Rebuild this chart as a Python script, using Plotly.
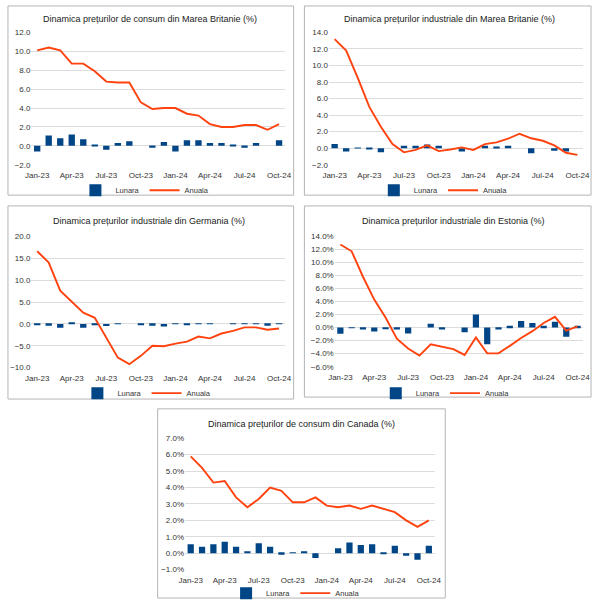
import plotly.graph_objects as go

months = ["Jan-23","Feb-23","Mar-23","Apr-23","May-23","Jun-23","Jul-23","Aug-23","Sep-23","Oct-23","Nov-23","Dec-23",
          "Jan-24","Feb-24","Mar-24","Apr-24","May-24","Jun-24","Jul-24","Aug-24","Sep-24","Oct-24"]
tick_months = months[::3]

titles = ["Dinamica prețurilor de consum din Marea Britanie (%)",
          "Dinamica prețurilor industriale din Marea Britanie (%)",
          "Dinamica prețurilor industriale din Germania (%)",
          "Dinamica prețurilor industriale din Estonia (%)",
          "Dinamica prețurilor de consum din Canada (%)"]

uk_cpi_lunara = [-0.6, 1.1, 0.8, 1.2, 0.7, 0.1, -0.4, 0.3, 0.5, 0.0, -0.2, 0.4,
                 -0.6, 0.6, 0.6, 0.3, 0.3, 0.1, -0.2, 0.3, 0.0, 0.6]
uk_cpi_anuala = [10.1, 10.4, 10.1, 8.7, 8.7, 7.9, 6.8, 6.7, 6.7, 4.6, 3.9, 4.0,
                 4.0, 3.4, 3.2, 2.3, 2.0, 2.0, 2.2, 2.2, 1.7, 2.3]

uk_ppi_lunara = [0.5, -0.4, 0.05, -0.15, -0.5, 0.0, 0.3, 0.3, 0.45, 0.3, 0.0, -0.4,
                 0.0, 0.3, 0.2, 0.3, 0.0, -0.6, 0.0, -0.3, -0.4, 0.0]
uk_ppi_anuala = [13.2, 11.8, 8.5, 5.0, 2.6, 0.5, -0.5, -0.2, 0.35, -0.35, -0.15, 0.1,
                 -0.2, 0.5, 0.7, 1.15, 1.75, 1.2, 0.9, 0.35, -0.55, -0.8]

de_ppi_lunara = [-0.3, -0.4, -0.9, 0.4, -0.9, -0.3, -0.5, 0.1, 0.0, -0.1, -0.4, -0.6,
                 0.1, -0.2, 0.1, 0.1, 0.0, 0.1, 0.1, 0.1, -0.4, 0.1]
de_ppi_anuala = [16.6, 14.0, 7.6, 5.1, 2.55, 1.4, -3.1, -7.7, -9.2, -7.3, -5.0, -5.1,
                 -4.5, -4.05, -2.9, -3.3, -2.2, -1.6, -0.8, -0.8, -1.35, -1.05]

ee_ppi_lunara = [-0.95, -0.1, -0.3, -0.6, -0.2, -0.3, -0.9, 0.0, 0.6, -0.3, 0.0, -0.7,
                 2.0, -2.55, -0.3, 0.3, 1.0, 0.7, 0.3, 0.9, -1.4, 0.3]
ee_ppi_anuala = [12.75, 11.7, 7.8, 4.3, 1.55, -1.7, -3.2, -4.3, -2.55, -2.95, -3.3, -4.2,
                 -1.5, -3.95, -3.95, -2.8, -1.6, -0.55, 0.7, 1.65, -0.45, 0.2]

ca_cpi_lunara = [0.55, 0.4, 0.55, 0.7, 0.4, 0.1, 0.6, 0.4, -0.1, 0.05, 0.1, -0.3,
                 0.0, 0.3, 0.65, 0.5, 0.55, -0.05, 0.45, -0.15, -0.4, 0.45]
ca_cpi_anuala = [5.9, 5.2, 4.3, 4.4, 3.4, 2.8, 3.3, 4.0, 3.8, 3.1, 3.1, 3.4,
                 2.9, 2.8, 2.9, 2.7, 2.9, 2.7, 2.5, 2.0, 1.6, 2.0]

lunara_series = [uk_cpi_lunara, uk_ppi_lunara, de_ppi_lunara, ee_ppi_lunara, ca_cpi_lunara]
anuala_series = [uk_cpi_anuala, uk_ppi_anuala, de_ppi_anuala, ee_ppi_anuala, ca_cpi_anuala]
y_ranges = [(-2, 12, 2), (-2, 14, 2), (-10, 20, 5), (-6, 14, 2), (-1, 7, 1)]
y_suffix = ["", "", "", "%", "%"]

W, H = 600, 608
plot_px = [(26, 285, 29, 164), (330, 590, 29, 164), (26, 285, 237, 371),
           (336, 590, 237, 370), (183, 438, 443, 577)]
box_px = [(2, 294, 2, 195), (305, 598, 2, 195), (2, 294, 206, 403),
          (305, 598, 206, 401), (155, 449, 413, 606)]
title_px = [(147, 15), (453, 15), (146, 221), (457, 221), (302, 428)]
legend_px = [(142, 190), (447, 190), (144, 397), (449, 397), (296, 601)]

BLUE = "#004586"
ORANGE = "#FF420E"
FONT = "Liberation Sans, Arial, sans-serif"
TFONT = "Liberation Sans Narrow, Arial Narrow, Liberation Sans, sans-serif"

fig = go.Figure()
layout = dict(width=W, height=H, margin=dict(l=0, r=0, t=0, b=0),
              paper_bgcolor="white", plot_bgcolor="white",
              bargap=0.45, shapes=[], annotations=[],
              font=dict(family=FONT, size=7, color="#333333"))

for i in range(5):
    n = i + 1
    xa = "x" if n == 1 else f"x{n}"
    ya = "y" if n == 1 else f"y{n}"
    lg = "legend" if n == 1 else f"legend{n}"
    fig.add_trace(go.Bar(x=months, y=lunara_series[i], name="Lunara", marker_color=BLUE,
                         marker_line_width=0, xaxis=xa, yaxis=ya, legend=lg))
    fig.add_trace(go.Scatter(x=months, y=anuala_series[i], name="Anuala", mode="lines",
                             line=dict(color=ORANGE, width=1.9), xaxis=xa, yaxis=ya, legend=lg))
    l, r, t, b = plot_px[i]
    lo, hi, step = y_ranges[i]
    layout["xaxis" if n == 1 else f"xaxis{n}"] = dict(
        domain=[l / W, r / W], anchor=ya, type="category", categoryarray=months,
        range=[-0.5, len(months) - 0.5], tickvals=tick_months, ticktext=tick_months,
        showgrid=False, zeroline=False, showline=False,
        ticks="outside", ticklen=3, tickcolor="rgba(0,0,0,0)",
        ticklabeloverflow="allow",
        tickfont=dict(size=8, color="#333333"), tickangle=0)
    layout["yaxis" if n == 1 else f"yaxis{n}"] = dict(
        domain=[1 - b / H, 1 - t / H], anchor=xa, range=[lo, hi], dtick=step, tick0=lo,
        tickformat=".1f", ticksuffix=y_suffix[i], showgrid=True, gridcolor="#dcdcdc",
        gridwidth=1, zeroline=False, showline=False, ticks="",
        tickfont=dict(size=8, color="#333333"))
    lx, ly = legend_px[i]
    layout[lg] = dict(x=lx / W, y=1 - ly / H, xanchor="center", yanchor="middle",
                      orientation="h", font=dict(size=7.5, color="#333333"),
                      bgcolor="rgba(0,0,0,0)", itemwidth=30, tracegroupgap=0)
    bl, br, bt, bb = box_px[i]
    layout["shapes"].append(dict(type="rect", xref="paper", yref="paper",
                                 x0=bl / W, x1=br / W, y0=1 - bb / H, y1=1 - bt / H,
                                 line=dict(color="#b4b4b4", width=1), layer="below"))
    tx, ty = title_px[i]
    layout["annotations"].append(dict(text=titles[i], x=tx / W, y=1 - ty / H,
                                      xref="paper", yref="paper", showarrow=False,
                                      xanchor="center", yanchor="middle",
                                      font=dict(family=TFONT, size=9, color="#1a1a1a")))

fig.update_layout(**layout)
fig.write_html("out.html", config={"displayModeBar": False},
               post_script="document.body.style.margin='0';document.body.style.overflow='hidden';")
